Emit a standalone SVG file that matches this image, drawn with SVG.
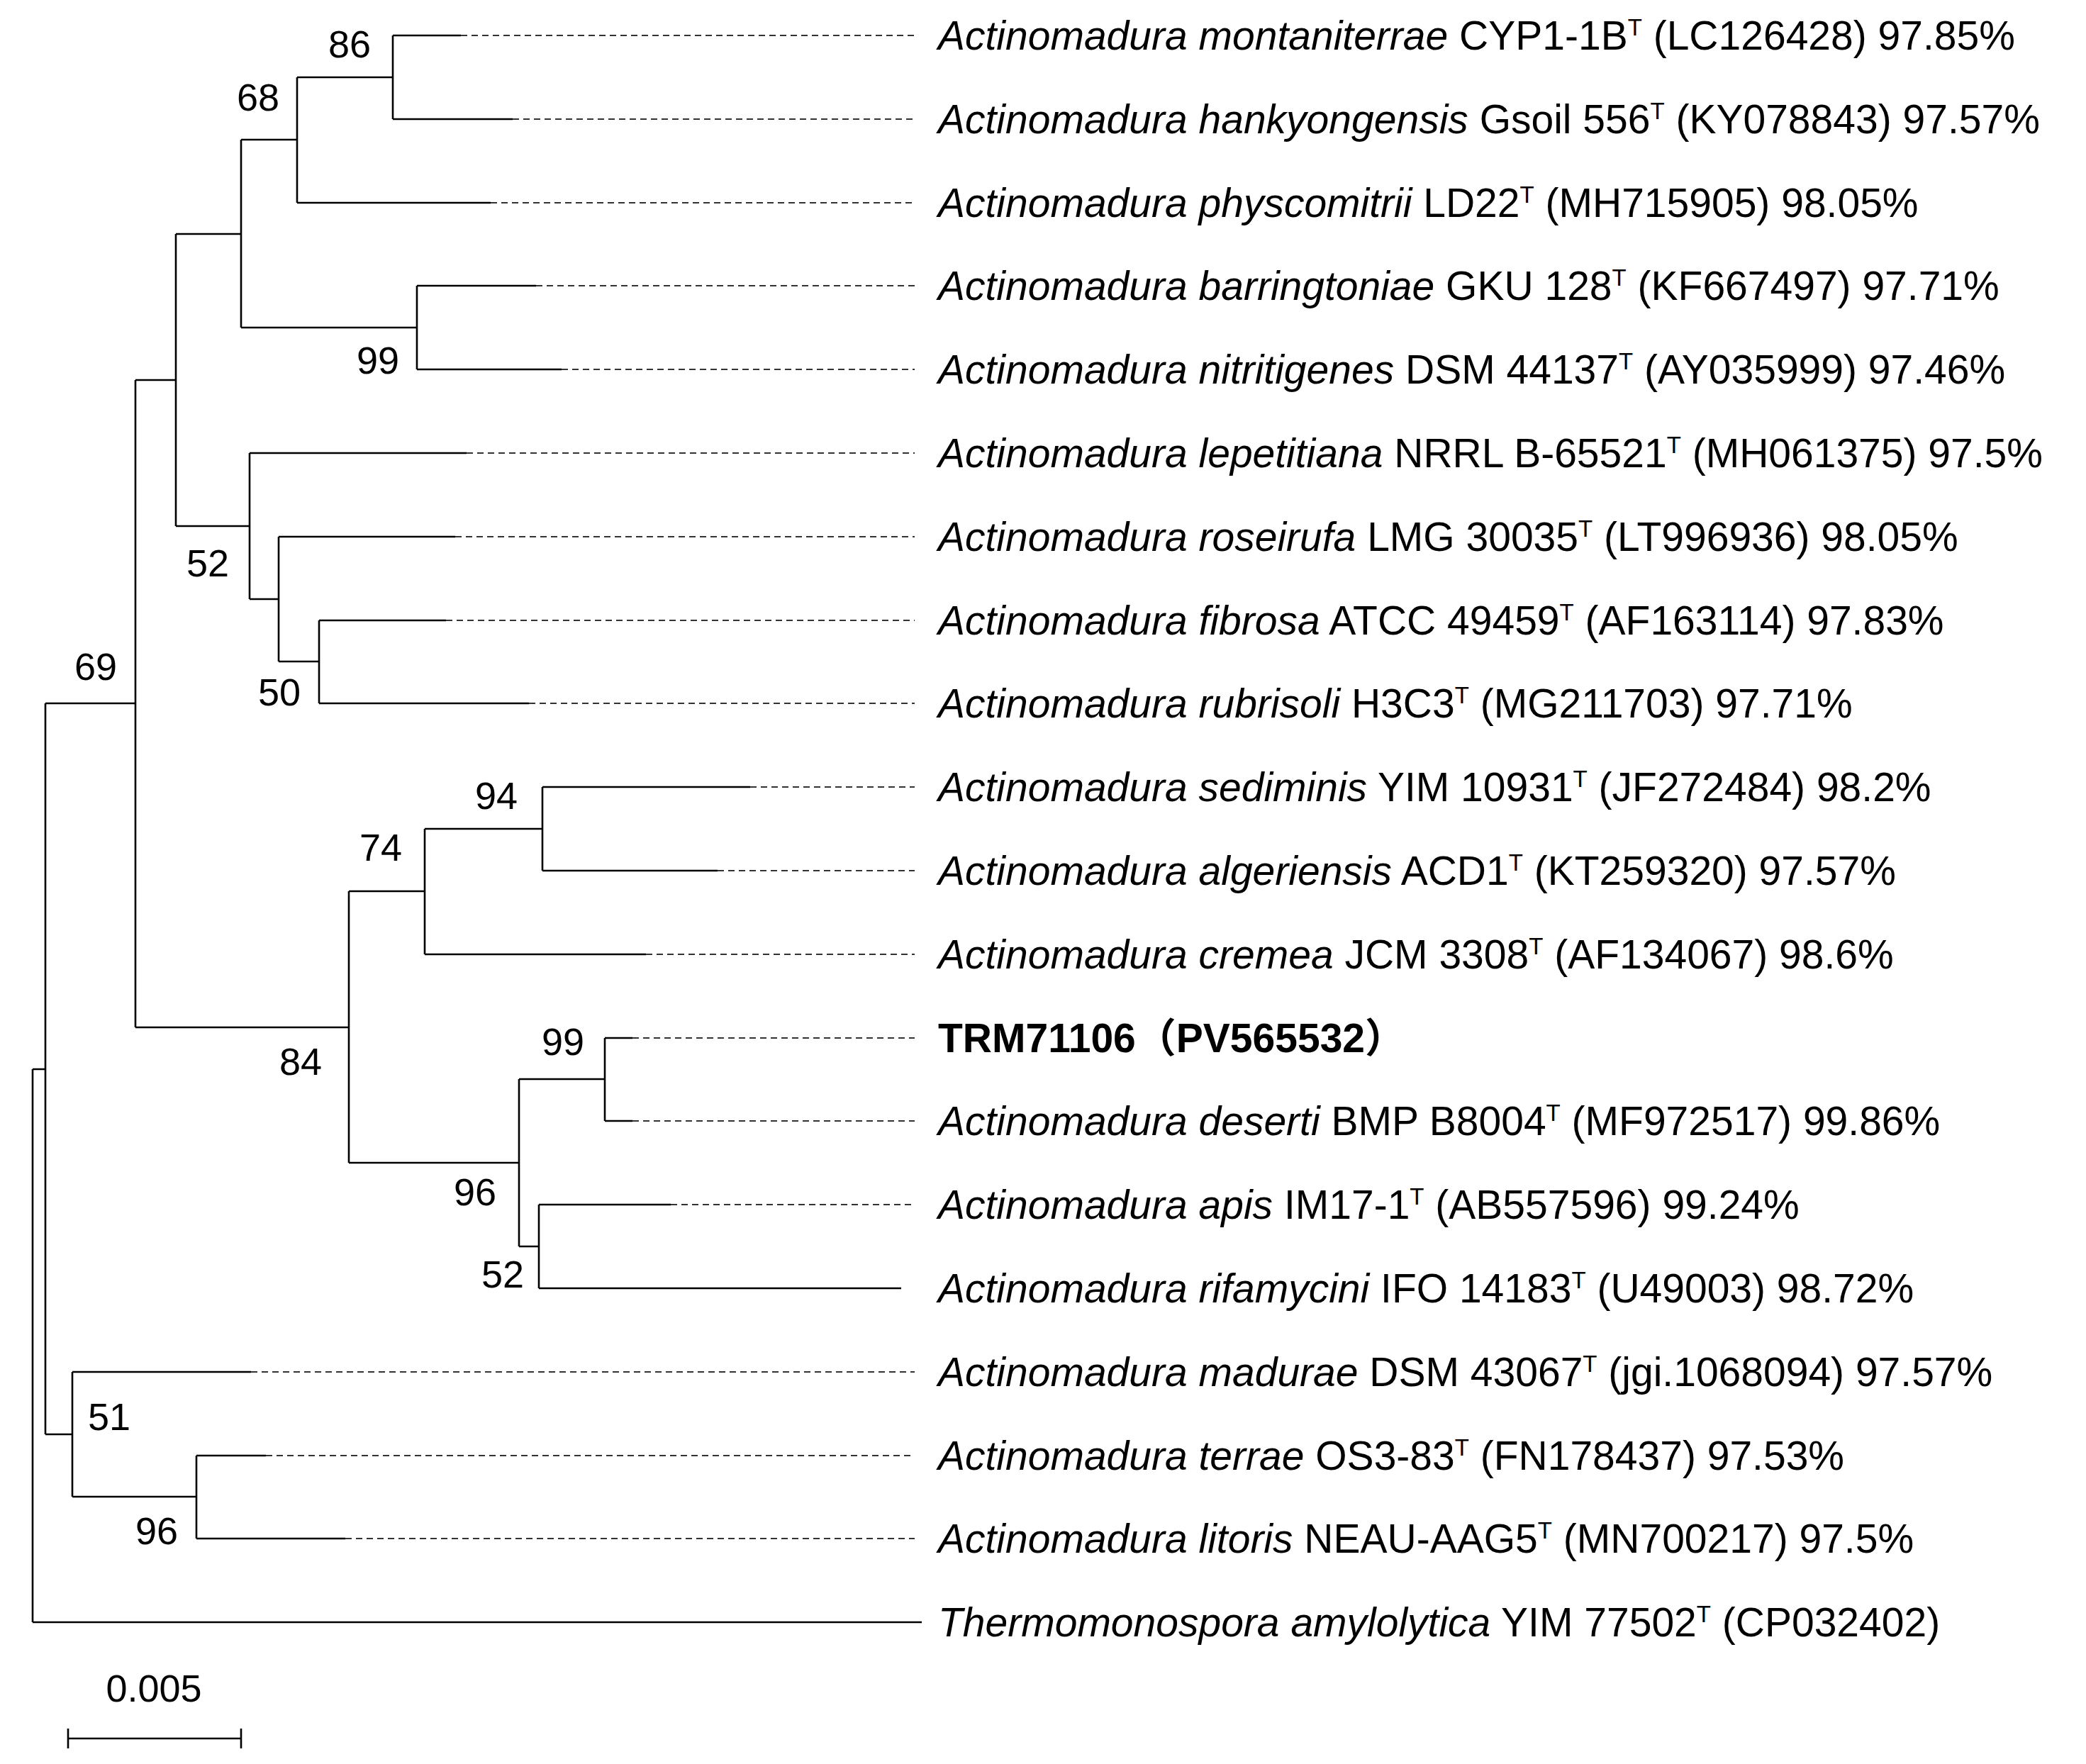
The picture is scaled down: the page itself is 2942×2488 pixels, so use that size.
<svg xmlns="http://www.w3.org/2000/svg" width="2942" height="2488" viewBox="0 0 2942 2488">
<style>
.b{stroke:#000;stroke-width:2.6;fill:none}
.d{stroke:#333;stroke-width:1.8;fill:none;stroke-dasharray:9 6}
text{font-family:"Liberation Sans",Arial,sans-serif;fill:#000}
.l{font-size:57px}
.n{font-size:54px;text-anchor:middle}
.s{font-size:33px}
</style>
<rect width="2942" height="2488" fill="#fff"/>
<g transform="translate(0,6)">
<g id="connectors">
<path class="b" d="M554,44V162M554,44H650M554,162H723"/>
<path class="b" d="M419,103V280M419,103H554M419,280H692"/>
<path class="b" d="M588,397V515M588,397H756M588,515H792"/>
<path class="b" d="M340,191V456M340,191H419M340,456H588"/>
<path class="b" d="M450,869V986M450,869H629M450,986H746"/>
<path class="b" d="M393,751V927M393,751H642M393,927H450"/>
<path class="b" d="M352,633V839M352,633H658M352,839H393"/>
<path class="b" d="M248,324V736M248,324H340M248,736H352"/>
<path class="b" d="M765,1104V1222M765,1104H1058M765,1222H1012"/>
<path class="b" d="M599,1163V1340M599,1163H765M599,1340H911"/>
<path class="b" d="M853,1458V1575M853,1458H892M853,1575H892"/>
<path class="b" d="M760,1693V1811M760,1693H946M760,1811H1271"/>
<path class="b" d="M732,1516V1752M732,1516H853M732,1752H760"/>
<path class="b" d="M492,1251V1634M492,1251H599M492,1634H732"/>
<path class="b" d="M191,530V1443M191,530H248M191,1443H492"/>
<path class="b" d="M277,2047V2164M277,2047H375M277,2164H487"/>
<path class="b" d="M102,1929V2105M102,1929H354M102,2105H277"/>
<path class="b" d="M64,986V2017M64,986H191M64,2017H102"/>
<path class="b" d="M46,1502V2282M46,1502H64M46,2282H1300"/>
<path class="d" d="M650,44H1290M723,162H1290M692,280H1290M756,397H1290M792,515H1290M658,633H1290M642,751H1290M629,869H1290M746,986H1290M1058,1104H1290M1012,1222H1290M911,1340H1290M892,1458H1290M892,1575H1290M946,1693H1290M354,1929H1290M375,2047H1290M487,2164H1290"/>
</g>
<g id="bootstrap">
<text class="n" x="493" y="75">86</text>
<text class="n" x="364" y="150">68</text>
<text class="n" x="533" y="521">99</text>
<text class="n" x="293" y="807">52</text>
<text class="n" x="394" y="989">50</text>
<text class="n" x="135" y="953">69</text>
<text class="n" x="700" y="1135">94</text>
<text class="n" x="537" y="1208">74</text>
<text class="n" x="424" y="1510">84</text>
<text class="n" x="794" y="1482">99</text>
<text class="n" x="670" y="1694">96</text>
<text class="n" x="709" y="1810">52</text>
<text class="n" x="154" y="2011">51</text>
<text class="n" x="221" y="2172">96</text>
</g>
<g id="labels">
<text class="l" x="1323" y="64"><tspan font-style="italic">Actinomadura montaniterrae</tspan> CYP1-1B<tspan class="s" dy="-20">T</tspan><tspan dy="20"> (LC126428) 97.85%</tspan></text>
<text class="l" x="1323" y="182"><tspan font-style="italic">Actinomadura hankyongensis</tspan> Gsoil 556<tspan class="s" dy="-20">T</tspan><tspan dy="20"> (KY078843) 97.57%</tspan></text>
<text class="l" x="1323" y="300"><tspan font-style="italic">Actinomadura physcomitrii</tspan> LD22<tspan class="s" dy="-20">T</tspan><tspan dy="20"> (MH715905) 98.05%</tspan></text>
<text class="l" x="1323" y="417"><tspan font-style="italic">Actinomadura barringtoniae</tspan> GKU 128<tspan class="s" dy="-20">T</tspan><tspan dy="20"> (KF667497) 97.71%</tspan></text>
<text class="l" x="1323" y="535"><tspan font-style="italic">Actinomadura nitritigenes</tspan> DSM 44137<tspan class="s" dy="-20">T</tspan><tspan dy="20"> (AY035999) 97.46%</tspan></text>
<text class="l" x="1323" y="653"><tspan font-style="italic">Actinomadura lepetitiana</tspan> NRRL B-65521<tspan class="s" dy="-20">T</tspan><tspan dy="20"> (MH061375) 97.5%</tspan></text>
<text class="l" x="1323" y="771"><tspan font-style="italic">Actinomadura roseirufa</tspan> LMG 30035<tspan class="s" dy="-20">T</tspan><tspan dy="20"> (LT996936) 98.05%</tspan></text>
<text class="l" x="1323" y="889"><tspan font-style="italic">Actinomadura fibrosa</tspan> ATCC 49459<tspan class="s" dy="-20">T</tspan><tspan dy="20"> (AF163114) 97.83%</tspan></text>
<text class="l" x="1323" y="1006"><tspan font-style="italic">Actinomadura rubrisoli</tspan> H3C3<tspan class="s" dy="-20">T</tspan><tspan dy="20"> (MG211703) 97.71%</tspan></text>
<text class="l" x="1323" y="1124"><tspan font-style="italic">Actinomadura sediminis</tspan> YIM 10931<tspan class="s" dy="-20">T</tspan><tspan dy="20"> (JF272484) 98.2%</tspan></text>
<text class="l" x="1323" y="1242"><tspan font-style="italic">Actinomadura algeriensis</tspan> ACD1<tspan class="s" dy="-20">T</tspan><tspan dy="20"> (KT259320) 97.57%</tspan></text>
<text class="l" x="1323" y="1360"><tspan font-style="italic">Actinomadura cremea</tspan> JCM 3308<tspan class="s" dy="-20">T</tspan><tspan dy="20"> (AF134067) 98.6%</tspan></text>
<text class="l" x="1323" y="1478" font-weight="bold" style="font-family:'Liberation Sans','Noto Sans CJK SC',sans-serif">TRM71106（PV565532）</text>
<text class="l" x="1323" y="1595"><tspan font-style="italic">Actinomadura deserti</tspan> BMP B8004<tspan class="s" dy="-20">T</tspan><tspan dy="20"> (MF972517) 99.86%</tspan></text>
<text class="l" x="1323" y="1713"><tspan font-style="italic">Actinomadura apis</tspan> IM17-1<tspan class="s" dy="-20">T</tspan><tspan dy="20"> (AB557596) 99.24%</tspan></text>
<text class="l" x="1323" y="1831"><tspan font-style="italic">Actinomadura rifamycini</tspan> IFO 14183<tspan class="s" dy="-20">T</tspan><tspan dy="20"> (U49003) 98.72%</tspan></text>
<text class="l" x="1323" y="1949"><tspan font-style="italic">Actinomadura madurae</tspan> DSM 43067<tspan class="s" dy="-20">T</tspan><tspan dy="20"> (jgi.1068094) 97.57%</tspan></text>
<text class="l" x="1323" y="2067"><tspan font-style="italic">Actinomadura terrae</tspan> OS3-83<tspan class="s" dy="-20">T</tspan><tspan dy="20"> (FN178437) 97.53%</tspan></text>
<text class="l" x="1323" y="2184"><tspan font-style="italic">Actinomadura litoris</tspan> NEAU-AAG5<tspan class="s" dy="-20">T</tspan><tspan dy="20">  (MN700217) 97.5%</tspan></text>
<text class="l" x="1323" y="2302"><tspan font-style="italic">Thermomonospora amylolytica</tspan> YIM 77502<tspan class="s" dy="-20">T</tspan><tspan dy="20"> (CP032402)</tspan></text>
</g>
</g>
<g id="scalebar">
<path class="b" d="M96,2452H340M96,2438V2466M340,2438V2466"/>
<text class="n" x="217" y="2400">0.005</text>
</g>
</svg>
